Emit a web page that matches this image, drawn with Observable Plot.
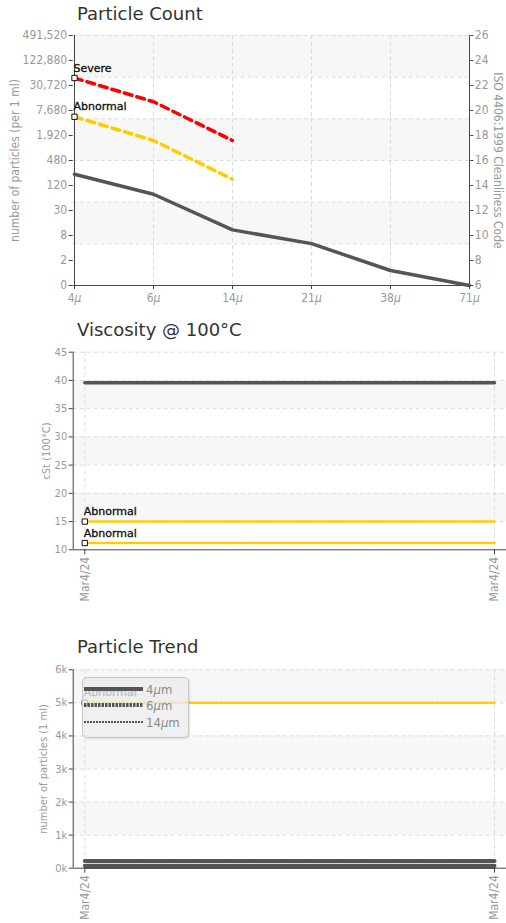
<!DOCTYPE html>
<html><head><meta charset="utf-8">
<script src="https://cdn.jsdelivr.net/npm/d3@7"></script>
<script src="https://cdn.jsdelivr.net/npm/@observablehq/plot@0.6"></script>
<style>
body{margin:0;background:#fff;}
#wrap{position:relative;width:506px;height:923px;overflow:hidden;font-family:"DejaVu Sans",sans-serif;}
.title{position:absolute;left:77px;font-size:18px;line-height:18px;color:#333;white-space:nowrap;}
.panel{position:absolute;left:0;}
.legend{position:absolute;left:82px;top:677px;width:105px;height:59px;border:1px solid #c8c8c8;border-radius:5px;background:rgba(236,236,236,0.78);box-shadow:1px 1px 2px rgba(0,0,0,0.12);}
</style></head><body><div id="wrap"></div>
<script>
// ---------- data ----------
const sizes = ["4μ","6μ","14μ","21μ","38μ","71μ"];
const countCodes = [14.9, 13.3, 10.45, 9.35, 7.2, 6.0];
const severeCodes = [22.6, 20.7, 17.6];
const abnormalCodes = [19.5, 17.6, 14.5];
const codeTicks = [6,8,10,12,14,16,18,20,22,24,26];
const countTickLabels = ["0","2","8","30","120","480","1,920","7,680","30,720","122,880","491,520"];
const codeGrid = [26, 22.667, 19.333, 16, 12.667, 9.333];
const codeBands = [[22.667,26],[16,19.333],[9.333,12.667]];

const sampleIdx = [0, 1];
const sampleDates = ["Mar4/24", "Mar4/24"];
const viscosity = [39.6, 39.6];
const viscAbnormal = [15.0, 11.2];
const viscTicks = [10,15,20,25,30,35,40,45];
const viscBands = [[35,40],[25,30],[15,20]];

const trendSeries = ["4μm","6μm","14μm"];
const trend4 = [215, 215];
const trend6 = [75, 75];
const trend14 = [12, 12];
const trendAbnormal = [5000];
const trendTicks = [0,1000,2000,3000,4000,5000,6000];
const trendTickLabels = ["0k","1k","2k","3k","4k","5k","6k"];
const trendBands = [[5000,6000],[3000,4000],[1000,2000]];

// ---------- styles ----------
const cond = '"DejaVu Sans Condensed","DejaVu Sans",sans-serif';
const axisStroke = "#444", tickFill = "#999", gridStroke = "#dcdcdc", band = "#f7f7f7";
const dark = "#555", red = "#ff0000", yellow = "#ffcc00";
const dash = "4,3";
const baseStyle = {fontFamily: cond, fontSize: "12px", overflow: "visible", background: "transparent", fontStretch: "condensed"};
const wrap = document.getElementById("wrap");

function italicMu(svg){
  svg.querySelectorAll("text").forEach(t => {
    if (t.children.length) return;
    const s = t.textContent;
    if (!s.includes("μ")) return;
    t.textContent = "";
    s.split(/(μ)/).forEach(part => {
      if (!part) return;
      const ts = document.createElementNS("http://www.w3.org/2000/svg","tspan");
      ts.textContent = part;
      if (part === "μ") ts.setAttribute("font-style","italic");
      t.appendChild(ts);
    });
  });
}
function fixLabels(svg){
  svg.querySelectorAll("text").forEach(t => {
    if (t.textContent === "Severe" || t.textContent === "Abnormal") {
      t.style.fontStretch = "normal";
      t.parentNode.style.fontStretch = "normal";
    }
  });
}
function addTitle(text, top){
  const d = document.createElement("div");
  d.className = "title"; d.style.top = top + "px"; d.textContent = text;
  wrap.appendChild(d);
}
function addPanel(svg, top){
  svg.classList.add("panel"); svg.style.top = top + "px";
  italicMu(svg); fixLabels(svg);
  wrap.appendChild(svg);
}
const labelFont = {fill: "#111", fontFamily: "DejaVu Sans", fontSize: 11, stroke: "#222", strokeWidth: 0.35};

// ---------- panel 1 : Particle Count ----------
const p1data = sizes.map((s,i)=>({size:s, code:countCodes[i]}));
const sevData = severeCodes.map((c,i)=>({size:sizes[i], code:c}));
const abnData = abnormalCodes.map((c,i)=>({size:sizes[i], code:c}));
addTitle("Particle Count", 5);
const p1 = Plot.plot({
  width: 506, height: 280, marginTop: 10, marginBottom: 20, marginLeft: 72.7, marginRight: 36.7,
  x: {type: "point", domain: sizes, padding: 0, axis: null},
  y: {domain: [6, 26], axis: null},
  style: baseStyle,
  marks: [
    Plot.rect(codeBands, {y1: d=>d[0], y2: d=>d[1], fill: band}),
    Plot.ruleY(codeGrid, {stroke: gridStroke, strokeDasharray: dash}),
    Plot.ruleX(sizes, {stroke: gridStroke, strokeDasharray: dash}),
    Plot.axisY({anchor: "left", ticks: codeTicks, tickFormat: d => countTickLabels[codeTicks.indexOf(d)],
      tickSize: 4, tickPadding: 2, stroke: axisStroke, fill: tickFill,
      label: "number of particles (per 1 ml)", labelAnchor: "center", labelOffset: 63, labelArrow: "none"}),
    Plot.axisY({anchor: "right", ticks: codeTicks, tickFormat: d => String(d), tickSize: 3, tickPadding: 2,
      stroke: axisStroke, fill: tickFill, label: null}),
    Plot.axisX({anchor: "bottom", tickSize: 4, tickPadding: 4, stroke: axisStroke, fill: tickFill, label: null}),
    Plot.text(["ISO 4406:1999 Cleanliness Code"], {frameAnchor: "right", textAnchor: "middle", rotate: 90, dx: 28, fill: tickFill, fontSize: 12}),
    Plot.ruleX([sizes[0], sizes[sizes.length-1]], {stroke: axisStroke}),
    Plot.ruleY([6], {stroke: axisStroke}),
    Plot.line(p1data, {x: "size", y: "code", stroke: dark, strokeWidth: 3.5}),
    Plot.line(sevData, {x: "size", y: "code", stroke: red, strokeWidth: 3.5, strokeDasharray: "8,5"}),
    Plot.line(abnData, {x: "size", y: "code", stroke: yellow, strokeWidth: 3.5, strokeDasharray: "8,5"}),
    Plot.dot([sevData[0], abnData[0]], {x: "size", y: "code", symbol: "square", r: 3, fill: "white", stroke: "#111", strokeWidth: 1}),
    Plot.text([{...sevData[0], t: "Severe"}, {...abnData[0], t: "Abnormal"}], {x: "size", y: "code", text: "t", textAnchor: "start", dx: -1, dy: -10, ...labelFont})
  ]
});
addPanel(p1, 25);

// ---------- panel 2 : Viscosity ----------
const xDom = [-0.0283, 1.0293];
const viscData = sampleIdx.map(i => ({i, v: viscosity[i]}));
const viscLim = viscAbnormal.flatMap((v,k) => sampleIdx.map(i => ({i, v, k})));
const viscLimStart = viscAbnormal.map((v,k) => ({i: sampleIdx[0], v, t: "Abnormal"}));
addTitle("Viscosity @ 100°C", 321);
const p2 = Plot.plot({
  width: 506, height: 265, marginTop: 6.7, marginBottom: 60.7, marginLeft: 72.7, marginRight: 0,
  x: {domain: xDom, axis: null},
  y: {domain: [10, 45], axis: null},
  style: baseStyle,
  marks: [
    Plot.rect(viscBands, {y1: d=>d[0], y2: d=>d[1], fill: band}),
    Plot.ruleY(viscTicks.slice(1), {stroke: gridStroke, strokeDasharray: dash}),
    Plot.ruleX(sampleIdx, {stroke: gridStroke, strokeDasharray: dash}),
    Plot.axisY({anchor: "left", ticks: viscTicks, tickSize: 4, tickPadding: 2, stroke: axisStroke, fill: tickFill,
      label: "cSt (100°C)", labelAnchor: "center", labelOffset: 31, labelArrow: "none", fontSize: 11}),
    Plot.axisX({anchor: "bottom", ticks: sampleIdx, tickFormat: i => sampleDates[i], tickRotate: -90,
      tickSize: 5, tickPadding: 2, stroke: axisStroke, fill: tickFill, label: null}),
    Plot.ruleY([10], {stroke: axisStroke}),
    Plot.ruleX([xDom[0]], {stroke: axisStroke}),
    Plot.line(viscData, {x: "i", y: "v", stroke: dark, strokeWidth: 3.5}),
    Plot.line(viscLim, {x: "i", y: "v", z: "k", stroke: yellow, strokeWidth: 2.5, strokeDasharray: "2.5,2"}),
    Plot.dot(viscLimStart, {x: "i", y: "v", symbol: "square", r: 3, fill: "white", stroke: "#111", strokeWidth: 1}),
    Plot.text(viscLimStart, {x: "i", y: "v", text: "t", textAnchor: "start", dx: -1, dy: -10, ...labelFont})
  ]
});
addPanel(p2, 345);

// ---------- panel 3 : Particle Trend ----------
const trendValues = [trend4, trend6, trend14];
const trendStyles = [
  {strokeWidth: 4, strokeDasharray: null},
  {strokeWidth: 4, strokeDasharray: "2.5,1"},
  {strokeWidth: 2, strokeDasharray: "2,1"}
];
const trendAbnData = trendAbnormal.flatMap((v,k) => sampleIdx.map(i => ({i, v, k})));
const trendAbnStart = trendAbnormal.map(v => ({i: sampleIdx[0], v, t: "Abnormal"}));
addTitle("Particle Trend", 638);
const p3 = Plot.plot({
  width: 506, height: 261, marginTop: 7.3, marginBottom: 55.3, marginLeft: 72.7, marginRight: 0,
  x: {domain: xDom, axis: null},
  y: {domain: [0, 6000], axis: null},
  style: baseStyle,
  marks: [
    Plot.rect(trendBands, {y1: d=>d[0], y2: d=>d[1], fill: band}),
    Plot.ruleY(trendTicks.slice(1), {stroke: gridStroke, strokeDasharray: dash}),
    Plot.ruleX(sampleIdx, {stroke: gridStroke, strokeDasharray: dash}),
    Plot.axisY({anchor: "left", ticks: trendTicks, tickFormat: d => trendTickLabels[trendTicks.indexOf(d)],
      tickSize: 4, tickPadding: 2, stroke: axisStroke, fill: tickFill,
      label: "number of particles (1 ml)", labelAnchor: "center", labelOffset: 34, labelArrow: "none", fontSize: 11}),
    Plot.axisX({anchor: "bottom", ticks: sampleIdx, tickFormat: i => sampleDates[i], tickRotate: -90,
      tickSize: 5, tickPadding: 2, stroke: axisStroke, fill: tickFill, label: null}),
    Plot.line(trendAbnData, {x: "i", y: "v", z: "k", stroke: yellow, strokeWidth: 2.5, strokeDasharray: "2.5,2"}),
    Plot.dot(trendAbnStart, {x: "i", y: "v", symbol: "square", r: 3, fill: "white", stroke: "#111", strokeWidth: 1}),
    Plot.text(trendAbnStart, {x: "i", y: "v", text: "t", textAnchor: "start", dx: -1, dy: -10, ...labelFont}),
    ...trendValues.slice().reverse().map((vals, rk) => {
      const k = trendValues.length - 1 - rk;
      return Plot.line(sampleIdx.map(i => ({i, v: vals[i]})), {x: "i", y: "v", stroke: dark, ...trendStyles[k]});
    }),
    Plot.ruleY([0], {stroke: axisStroke}),
    Plot.ruleX([xDom[0]], {stroke: axisStroke})
  ]
});
addPanel(p3, 662);

// legend
const leg = document.createElement("div");
leg.className = "legend";
const ns = "http://www.w3.org/2000/svg";
const lsvg = document.createElementNS(ns, "svg");
lsvg.setAttribute("width", 105); lsvg.setAttribute("height", 59);
lsvg.style.fontFamily = cond; lsvg.style.fontStretch = "condensed";
trendSeries.forEach((name, k) => {
  const y = [11, 27, 44][k];
  const ln = document.createElementNS(ns, "line");
  ln.setAttribute("x1", 1); ln.setAttribute("x2", 60); ln.setAttribute("y1", y); ln.setAttribute("y2", y);
  ln.setAttribute("stroke", dark); ln.setAttribute("stroke-width", trendStyles[k].strokeWidth);
  if (trendStyles[k].strokeDasharray) ln.setAttribute("stroke-dasharray", trendStyles[k].strokeDasharray);
  lsvg.appendChild(ln);
  const tx = document.createElementNS(ns, "text");
  tx.setAttribute("x", 63); tx.setAttribute("y", y + 4.5);
  tx.setAttribute("fill", "#8a8a8a"); tx.setAttribute("font-size", 13);
  tx.textContent = name;
  lsvg.appendChild(tx);
});
italicMu(lsvg);
leg.appendChild(lsvg);
wrap.appendChild(leg);
</script></body></html>
